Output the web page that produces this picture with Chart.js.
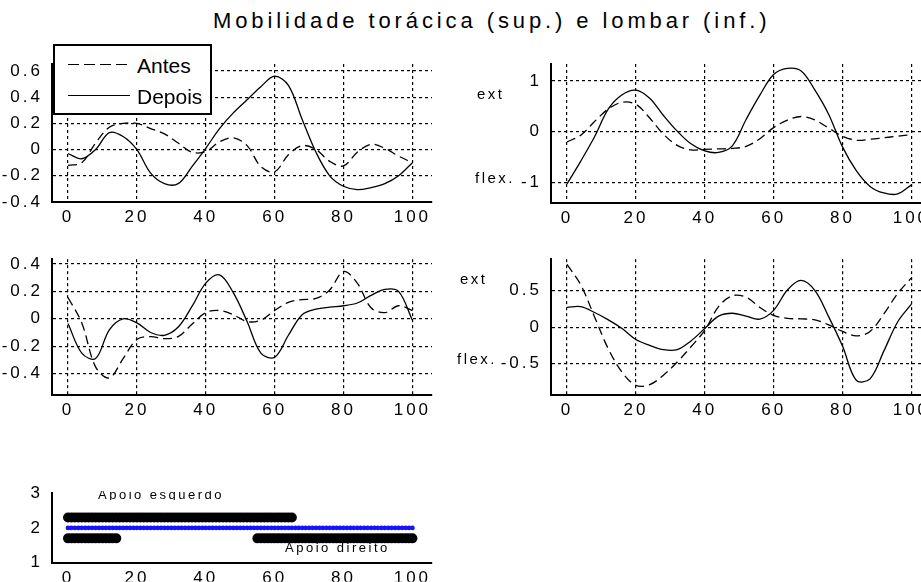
<!DOCTYPE html>
<html lang="pt">
<head>
<meta charset="UTF-8">
<title>Mobilidade torácica (sup.) e lombar (inf.)</title>
<script src="https://cdn.jsdelivr.net/npm/chart.js"></script>
<style>
  * { margin: 0; padding: 0; box-sizing: border-box; }
  body {
    width: 921px; height: 582px; overflow: hidden; position: relative;
    background: #fff; color: #000;
    font-family: 'Liberation Sans', Arial, sans-serif;
  }
  canvas { position: absolute; }
  .txt { position: absolute; white-space: nowrap; letter-spacing: 2.5px; font-size: 15px; line-height: 1; }
  .title { position: absolute; left: 213px; top: 10px; font-size: 22px; letter-spacing: 3.9px; white-space: nowrap; line-height: 1; }

  /* legenda do primeiro grafico */
  .legend {
    position: absolute; left: 53px; top: 44px; width: 159px; height: 71px;
    border: 2px solid #000; background: #fff;
    font-size: 21px; line-height: 1;
  }
  .legend .row { position: absolute; left: 0; height: 22px; width: 100%; }
  .legend .sample { position: absolute; left: 13px; top: 10px; width: 62px; height: 1.4px; }
  .legend .dash { background: repeating-linear-gradient(to right, #000 0 11px, transparent 11px 16px); }
  .legend .solid { background: #000; }
  .legend .lbl { position: absolute; left: 82px; top: 1px; }

  .clip { position: absolute; overflow: hidden; }
  .small { position: absolute; white-space: nowrap; letter-spacing: 2.5px; font-size: 13px; line-height: 1; }
</style>
</head>
<body>

<div class="title">Mobilidade torácica (sup.) e lombar (inf.)</div>

<canvas id="toraxAP" width="440" height="190" style="left:0;top:40px"></canvas>
<canvas id="toraxFE" width="480" height="190" style="left:460px;top:40px"></canvas>
<canvas id="lombarAP" width="440" height="185" style="left:0;top:240px"></canvas>
<canvas id="lombarFE" width="480" height="185" style="left:460px;top:240px"></canvas>
<canvas id="apoio" width="440" height="112" style="left:0;top:470px"></canvas>

<div class="legend">
  <div class="row" style="top:8px"><span class="sample dash"></span><span class="lbl">Antes</span></div>
  <div class="row" style="top:39px"><span class="sample solid"></span><span class="lbl">Depois</span></div>
</div>

<div class="txt" style="left:477px;top:86px">ext</div>
<div class="txt" style="left:475px;top:170px">flex.</div>
<div class="txt" style="left:460px;top:271px">ext</div>
<div class="txt" style="left:457px;top:351px">flex.</div>

<div class="clip" style="left:90px;top:491px;width:200px;height:9px">
  <div class="small" style="left:8px;top:-3px">Apoio esquerdo</div>
</div>
<div class="small" style="left:285px;top:541px">Apoio direito</div>

<script>
// % do ciclo
const xs = [0, 4, 8, 12, 16, 20, 24, 28, 32, 36, 40, 44, 48, 52, 56, 60, 64, 68, 72, 76, 80, 84, 88, 92, 96, 100];
const xTicks = [0, 20, 40, 60, 80, 100];

// toracica - superior esquerdo
const antesToraxAP  = [-0.12, -0.10, 0.05, 0.17, 0.20, 0.20, 0.16, 0.12, 0.05, -0.02, -0.015, 0.06, 0.09, 0.03, -0.13, -0.17, -0.04, 0.03, 0.00, -0.09, -0.125, -0.02, 0.04, 0.01, -0.05, -0.10];
const depoisToraxAP = [-0.03, -0.07, 0.00, 0.13, 0.10, 0.00, -0.18, -0.26, -0.26, -0.13, 0.01, 0.16, 0.28, 0.38, 0.48, 0.56, 0.49, 0.23, -0.02, -0.20, -0.28, -0.305, -0.29, -0.26, -0.20, -0.10];
const yTicksToraxAP = [-0.4, -0.2, 0, 0.2, 0.4, 0.6];

// toracica - superior direito (ext / flex.)
const antesToraxFE  = [-0.20, -0.07, 0.20, 0.45, 0.58, 0.54, 0.27, -0.05, -0.27, -0.36, -0.35, -0.34, -0.33, -0.29, -0.14, 0.08, 0.23, 0.30, 0.23, 0.07, -0.09, -0.17, -0.15, -0.12, -0.09, -0.06];
const depoisToraxFE = [-1.03, -0.58, -0.10, 0.45, 0.73, 0.82, 0.66, 0.32, 0.01, -0.24, -0.38, -0.41, -0.28, 0.24, 0.72, 1.13, 1.25, 1.20, 0.82, 0.34, -0.30, -0.77, -1.08, -1.21, -1.23, -1.05];
const yTicksToraxFE = [-1, 0, 1];

// lombar - meio esquerdo
const antesLombarAP  = [0.155, -0.03, -0.35, -0.43, -0.29, -0.15, -0.13, -0.145, -0.13, -0.04, 0.045, 0.06, 0.03, -0.02, -0.01, 0.06, 0.12, 0.14, 0.148, 0.21, 0.345, 0.26, 0.08, 0.045, 0.095, 0.06];
const depoisLombarAP = [-0.035, -0.25, -0.29, -0.08, 0.00, -0.03, -0.10, -0.12, -0.06, 0.09, 0.26, 0.32, 0.19, -0.02, -0.25, -0.28, -0.12, 0.03, 0.07, 0.085, 0.095, 0.115, 0.17, 0.215, 0.20, -0.01];
const yTicksLombarAP = [-0.4, -0.2, 0, 0.2, 0.4];

// lombar - meio direito (ext / flex.)
const antesLombarFE  = [0.86, 0.58, 0.14, -0.30, -0.62, -0.80, -0.79, -0.66, -0.48, -0.27, -0.045, 0.28, 0.43, 0.41, 0.27, 0.16, 0.12, 0.113, 0.10, 0.03, -0.06, -0.12, -0.06, 0.18, 0.46, 0.675];
const depoisLombarFE = [0.27, 0.28, 0.20, 0.10, -0.02, -0.17, -0.25, -0.31, -0.31, -0.19, -0.02, 0.15, 0.19, 0.15, 0.11, 0.23, 0.51, 0.64, 0.50, 0.14, -0.26, -0.73, -0.71, -0.33, 0.07, 0.315];
const yTicksLombarFE = [-0.5, 0, 0.5];

// fases de apoio (intervalos em % do ciclo) e nivel de cada fila
const apoioEsquerdo = [[0, 65]];
const apoioDireito = [[0, 14], [55, 100]];
const referencia = [[0, 100]];
const nivelEsquerdo = 2.3, nivelRef = 2, nivelDireito = 1.7;
const yTicksApoio = [1, 2, 3];

const X_MIN = -4.65, X_MAX = 105.7;

Chart.defaults.font.family = "'Liberation Sans', Arial, sans-serif";
Chart.defaults.font.size = 17;
Chart.defaults.color = '#000';

// letras espacadas como no original
const spaced = {
  id: 'spaced',
  beforeLayout(chart) { chart.ctx.letterSpacing = '3px'; },
  beforeDraw(chart) { chart.ctx.letterSpacing = '3px'; }
};

function xScale(h, grid) {
  return {
    type: 'linear', min: X_MIN, max: X_MAX,
    afterBuildTicks: s => { s.ticks = xTicks.map(v => ({ value: v })); },
    afterFit: s => { s.height = h; },
    ticks: { padding: 5, maxRotation: 0, autoSkip: false, callback: v => String(v) },
    grid: { display: grid, drawTicks: false, color: '#000', lineWidth: 1.2 },
    border: { color: '#000', width: 2, dash: [3, 3] }
  };
}

function yScale(ticks, min, max, w, grid) {
  return {
    type: 'linear', min: min, max: max,
    afterBuildTicks: s => { s.ticks = ticks.map(v => ({ value: v })); },
    afterFit: s => { s.width = w; },
    ticks: { padding: 9, autoSkip: false, callback: v => String(v) },
    grid: { display: grid, drawTicks: false, color: '#000', lineWidth: 1.2 },
    border: { color: '#000', width: 2, dash: [3, 3] }
  };
}

function baseOptions(box, scales) {
  return {
    responsive: false, animation: false, events: [],
    layout: { padding: { top: box.top, right: box.right, left: 0, bottom: 0 } },
    plugins: { legend: { display: false }, tooltip: { enabled: false } },
    scales: scales
  };
}

function lineChart(id, box, yTicks, yMin, yMax, antes, depois) {
  const common = { borderColor: '#000', borderWidth: 1.3, pointRadius: 0, tension: 0.35, fill: false };
  return new Chart(document.getElementById(id), {
    type: 'line',
    data: {
      datasets: [
        Object.assign({ label: 'Antes', data: xs.map((x, i) => ({ x: x, y: antes[i] })), borderDash: [9, 5] }, common),
        Object.assign({ label: 'Depois', data: xs.map((x, i) => ({ x: x, y: depois[i] })) }, common)
      ]
    },
    options: baseOptions(box, {
      x: xScale(box.axisH, true),
      y: yScale(yTicks, yMin, yMax, box.axisW, true)
    }),
    plugins: [spaced]
  });
}

lineChart('toraxAP', { top: 24, right: 8, axisW: 52, axisH: 28 }, yTicksToraxAP, -0.4, 0.653, antesToraxAP, depoisToraxAP);
lineChart('toraxFE', { top: 24, right: 9, axisW: 91, axisH: 27 }, yTicksToraxFE, -1.408, 1.336, antesToraxFE, depoisToraxFE);
lineChart('lombarAP', { top: 17, right: 8, axisW: 52, axisH: 30 }, yTicksLombarAP, -0.555, 0.434, antesLombarAP, depoisLombarAP);
lineChart('lombarFE', { top: 17, right: 9, axisW: 91, axisH: 30 }, yTicksLombarFE, -0.932, 0.932, antesLombarFE, depoisLombarFE);

// um ponto por % do ciclo dentro de cada intervalo de apoio
function pontos(intervalos, nivel) {
  const out = [];
  intervalos.forEach(([a, b]) => { for (let x = a; x <= b; x++) out.push({ x: x, y: nivel }); });
  return out;
}

new Chart(document.getElementById('apoio'), {
  type: 'scatter',
  data: {
    datasets: [
      { label: 'Apoio esquerdo', data: pontos(apoioEsquerdo, nivelEsquerdo), pointRadius: 5, backgroundColor: '#000', borderWidth: 0 },
      { label: 'Referência', data: pontos(referencia, nivelRef), pointRadius: 2.4, backgroundColor: '#1414ff', borderWidth: 0 },
      { label: 'Apoio direito', data: pontos(apoioDireito, nivelDireito), pointRadius: 5, backgroundColor: '#000', borderWidth: 0 }
    ]
  },
  options: baseOptions({ top: 23, right: 8 }, {
    x: xScale(19, false),
    y: yScale(yTicksApoio, 1, 3, 52, false)
  }),
  plugins: [spaced]
});
</script>
</body>
</html>
